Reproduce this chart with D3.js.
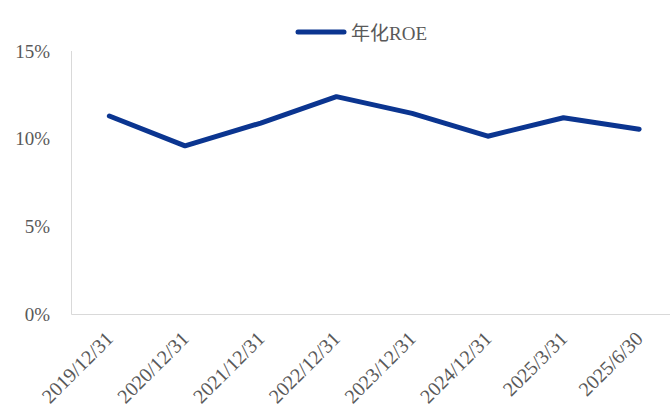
<!DOCTYPE html>
<html>
<head>
<meta charset="utf-8">
<script src="https://cdn.jsdelivr.net/npm/d3@7"></script>
<style>
  html, body { margin: 0; padding: 0; background: #fff; }
  text { font-family: "Liberation Serif", "Noto Sans CJK SC", serif; fill: #595959; }
</style>
</head>
<body>
<div id="chart"></div>
<script>
// data
const dates = ["2019/12/31", "2020/12/31", "2021/12/31", "2022/12/31",
               "2023/12/31", "2024/12/31", "2025/3/31", "2025/6/30"];
const roe = [11.3, 9.6, 10.9, 12.4, 11.45, 10.15, 11.2, 10.55];
const yTicks = [0, 5, 10, 15];
const seriesName = "年化ROE";

const width = 670, height = 415;
const svg = d3.select("#chart").append("svg")
  .attr("width", width)
  .attr("height", height);

const x = d3.scaleBand().domain(dates).range([71.5, 677]);
const y = d3.scaleLinear().domain([0, 15]).range([314.5, 51]);

// axes lines
svg.append("line")
  .attr("x1", 71.5).attr("x2", 71.5)
  .attr("y1", y(15)).attr("y2", y(0))
  .attr("stroke", "#d9d9d9").attr("stroke-width", 1);
svg.append("line")
  .attr("x1", 71.5).attr("x2", width)
  .attr("y1", y(0)).attr("y2", y(0))
  .attr("stroke", "#d9d9d9").attr("stroke-width", 1);

// y labels
svg.selectAll(".ylab")
  .data(yTicks)
  .enter().append("text")
  .attr("class", "ylab")
  .attr("x", 50)
  .attr("y", d => y(d))
  .attr("dy", "0.35em")
  .attr("text-anchor", "end")
  .style("font-size", "19px")
  .text(d => d + "%");

// x labels, rotated
svg.selectAll(".xlab")
  .data(dates)
  .enter().append("text")
  .attr("class", "xlab")
  .attr("transform", d => `translate(${x(d) + x.bandwidth() / 2 + 5},340) rotate(-45)`)
  .attr("text-anchor", "end")
  .style("font-size", "20px")
  .text(d => d);

// line
const line = d3.line()
  .x((d, i) => x(dates[i]) + x.bandwidth() / 2)
  .y(d => y(d));

svg.append("path")
  .datum(roe)
  .attr("d", line)
  .attr("fill", "none")
  .attr("stroke", "#0b3590")
  .attr("stroke-width", 5)
  .attr("stroke-linecap", "round")
  .attr("stroke-linejoin", "round");

// legend
svg.append("line")
  .attr("x1", 298).attr("x2", 344)
  .attr("y1", 32).attr("y2", 32)
  .attr("stroke", "#0b3590")
  .attr("stroke-width", 5)
  .attr("stroke-linecap", "round");
svg.append("text")
  .attr("x", 351)
  .attr("y", 33)
  .attr("dy", "0.35em")
  .style("font-size", "19px")
  .text(seriesName);
</script>
</body>
</html>
